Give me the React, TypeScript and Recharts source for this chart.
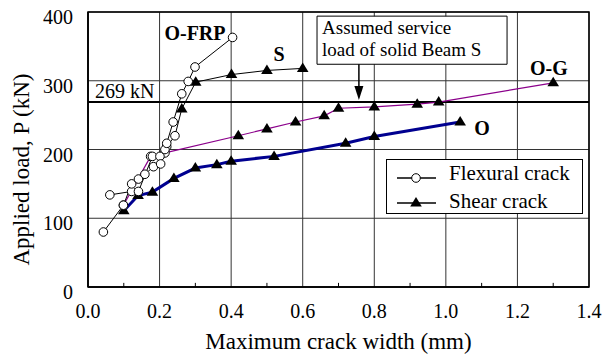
import React from 'react';
import {
  ComposedChart, Line, XAxis, YAxis, CartesianGrid, ReferenceLine, ReferenceArea, ReferenceDot, Legend,
} from 'recharts';

const FONT = 'Liberation Serif, DejaVu Serif, serif';

// crack width (mm) w, load (kN) p, c: 'f' flexural crack, 's' shear crack
const beamO = [
  { w: 0.1, p: 111, c: 's' }, { w: 0.14, p: 133, c: 's' }, { w: 0.18, p: 138, c: 's' },
  { w: 0.24, p: 158, c: 's' }, { w: 0.3, p: 173, c: 's' }, { w: 0.36, p: 178, c: 's' },
  { w: 0.4, p: 183, c: 's' }, { w: 0.52, p: 190, c: 's' }, { w: 0.72, p: 209, c: 's' },
  { w: 0.8, p: 219, c: 's' }, { w: 1.04, p: 240, c: 's' },
];

const beamOG = [
  { w: 0.099, p: 119, c: 'f' }, { w: 0.175, p: 190, c: 'f' }, { w: 0.215, p: 195, c: 'f' },
  { w: 0.42, p: 220, c: 's' }, { w: 0.5, p: 230, c: 's' }, { w: 0.58, p: 240, c: 's' },
  { w: 0.66, p: 249, c: 's' }, { w: 0.7, p: 260, c: 's' }, { w: 0.8, p: 262, c: 's' },
  { w: 0.92, p: 266, c: 's' }, { w: 0.98, p: 269, c: 's' }, { w: 1.3, p: 297, c: 's' },
];

const beamOFRP = [
  { w: 0.043, p: 80, c: 'f' }, { w: 0.099, p: 119, c: 'f' }, { w: 0.122, p: 150, c: 'f' },
  { w: 0.141, p: 157, c: 'f' }, { w: 0.159, p: 164, c: 'f' }, { w: 0.183, p: 175, c: 'f' },
  { w: 0.203, p: 179, c: 'f' }, { w: 0.215, p: 200, c: 'f' }, { w: 0.22, p: 209, c: 'f' },
  { w: 0.238, p: 240, c: 'f' }, { w: 0.262, p: 281, c: 'f' }, { w: 0.28, p: 299, c: 'f' },
  { w: 0.299, p: 320, c: 'f' }, { w: 0.404, p: 363, c: 'f' },
];

const beamS = [
  { w: 0.061, p: 134, c: 'f' }, { w: 0.122, p: 139, c: 'f' }, { w: 0.141, p: 139, c: 'f' },
  { w: 0.18, p: 190, c: 'f' }, { w: 0.201, p: 190, c: 'f' }, { w: 0.22, p: 204, c: 'f' },
  { w: 0.243, p: 220, c: 'f' }, { w: 0.262, p: 259, c: 's' }, { w: 0.301, p: 298, c: 's' },
  { w: 0.401, p: 309, c: 's' }, { w: 0.5, p: 315, c: 's' }, { w: 0.6, p: 318, c: 's' },
];

const xTicks = [0, 0.2, 0.4, 0.6, 0.8, 1.0, 1.2, 1.4];
const minorTicks = [0.1, 0.3, 0.5, 0.7, 0.9, 1.1, 1.3];
const yTicks = [0, 100, 200, 300, 400];
const serviceLoad = 269;

const beamLabels = [
  { name: 'O-FRP', w: 0.299, p: 369 },
  { name: 'S', w: 0.534, p: 339 },
  { name: 'O-G', w: 1.288, p: 318 },
  { name: 'O', w: 1.101, p: 231 },
];

const renderDot = (props: any) => {
  const { cx, cy, payload, index } = props;
  if (cx == null || cy == null) return <g key={index} />;
  if (payload.c === 'f') {
    return <circle key={index} cx={cx} cy={cy} r={4.3} fill="#fff" stroke="#000" strokeWidth={1} />;
  }
  return <path key={index} d={`M${cx},${cy - 6}L${cx + 5.8},${cy + 3.5}L${cx - 5.8},${cy + 3.5}Z`} fill="#000" />;
};

const LegendBox = () => (
  <svg width={197} height={55} style={{ display: 'block' }}>
    <rect x={0.5} y={0.5} width={196} height={54} fill="#fff" stroke="#000" />
    <line x1={11} x2={50} y1={19} y2={19} stroke="#000" strokeWidth={1.5} />
    <circle cx={30} cy={19} r={4.3} fill="#fff" stroke="#000" />
    <text x={63} y={21} style={{ fontFamily: FONT }} fontSize={21}>Flexural crack</text>
    <line x1={11} x2={50} y1={44} y2={44} stroke="#000" strokeWidth={1.5} />
    <path d="M30,38L35.8,47.5L24.2,47.5Z" fill="#000" />
    <text x={63} y={49} style={{ fontFamily: FONT }} fontSize={21}>Shear crack</text>
  </svg>
);

const App: React.FC = () => {
  return (
    <div style={{ position: 'absolute', left: 0, top: 0, background: '#fff', fontFamily: FONT }}>
      <ComposedChart
        width={603}
        height={356}
        margin={{ top: 12, right: 14, left: 18, bottom: 29 }}
        style={{ fontFamily: FONT }}
      >
        <CartesianGrid stroke="#333" strokeWidth={1} />
        <XAxis
          type="number"
          dataKey="w"
          domain={[0, 1.4]}
          ticks={xTicks}
          tickFormatter={(v: number) => v.toFixed(1)}
          tickLine={false}
          tickSize={0}
          tickMargin={17}
          height={40}
          axisLine={{ stroke: '#000', strokeWidth: 1.5 }}
          tick={{ fill: '#000', fontSize: 20, style: { fontFamily: FONT } }}
          allowDataOverflow
          label={{
            content: ({ viewBox }: any) => (
              <text x={viewBox.x + viewBox.width / 2} y={349} textAnchor="middle" fontSize={23} style={{ fontFamily: FONT }} fill="#000">
                Maximum crack width (mm)
              </text>
            ),
          }}
        />
        <YAxis
          type="number"
          domain={[0, 400]}
          ticks={yTicks}
          tickLine={false}
          tickSize={0}
          tickMargin={15}
          width={70}
          axisLine={{ stroke: '#000', strokeWidth: 1.5 }}
          tick={{ fill: '#000', fontSize: 20, dy: 5, style: { fontFamily: FONT } }}
          label={{
            content: ({ viewBox }: any) => {
              const x = viewBox.x + 3;
              const y = viewBox.y + viewBox.height / 2 + 20;
              return (
                <text x={x} y={y} transform={`rotate(-90 ${x} ${y})`} textAnchor="middle" dominantBaseline="central" fontSize={23} style={{ fontFamily: FONT }} fill="#000">
                  Applied load, P (kN)
                </text>
              );
            },
          }}
        />
        <ReferenceArea x1={0} x2={1.4} y1={0} y2={400} fill="none" stroke="#000" strokeWidth={1.5} />
        {minorTicks.map((m) => (
          <ReferenceLine key={m} segment={[{ x: m, y: 0 }, { x: m, y: 6 }]} stroke="#000" strokeWidth={1} />
        ))}
        <ReferenceLine
          y={serviceLoad}
          stroke="#000"
          strokeWidth={2}
          label={{
            content: ({ viewBox }: any) => (
              <text x={viewBox.x + 7} y={viewBox.y - 4} fontSize={20} style={{ fontFamily: FONT }} fill="#000">
                {serviceLoad} kN
              </text>
            ),
          }}
        />
        <ReferenceArea
          x1={0.64}
          x2={1.171}
          y1={324}
          y2={394}
          fill="#fff"
          fillOpacity={1}
          stroke="#000"
          strokeWidth={1}
          label={{
            content: ({ viewBox }: any) => (
              <text x={viewBox.x + 5} y={viewBox.y + 18} fontSize={19} style={{ fontFamily: FONT }} fill="#000">
                <tspan x={viewBox.x + 5}>Assumed service</tspan>
                <tspan x={viewBox.x + 5} dy={22}>load of solid Beam S</tspan>
              </text>
            ),
          }}
        />
        <ReferenceLine segment={[{ x: 0.757, y: 324 }, { x: 0.757, y: 285 }]} stroke="#000" strokeWidth={1.5} />
        <ReferenceDot
          x={0.757}
          y={272}
          r={0}
          shape={(p: any) => (
            <path d={`M${p.cx - 4.5},${p.cy - 14}L${p.cx + 4.5},${p.cy - 14}L${p.cx},${p.cy}Z`} fill="#000" />
          )}
        />

        <Line data={beamO} dataKey="p" stroke="#000090" strokeWidth={3} dot={renderDot} isAnimationActive={false} name="O" legendType="none" />
        <Line data={beamOG} dataKey="p" stroke="#8b008b" strokeWidth={1.2} dot={renderDot} isAnimationActive={false} name="O-G" legendType="none" />
        <Line data={beamS} dataKey="p" stroke="#000" strokeWidth={1} dot={renderDot} isAnimationActive={false} name="S" legendType="none" />
        <Line data={beamOFRP} dataKey="p" stroke="#000" strokeWidth={1} dot={renderDot} isAnimationActive={false} name="O-FRP" legendType="none" />

        {beamLabels.map((b) => (
          <ReferenceDot
            key={b.name}
            x={b.w}
            y={b.p}
            r={0}
            fill="none"
            stroke="none"
            label={{ value: b.name, position: 'center', fontSize: 20, fontWeight: 'bold', fill: '#000', style: { fontFamily: FONT } }}
          />
        ))}

        <Legend
          layout="horizontal"
          verticalAlign="middle"
          align="center"
          content={() => <LegendBox />}
          wrapperStyle={{ left: 386, top: 159, width: 197, height: 55 }}
        />
      </ComposedChart>
    </div>
  );
};

export default App;
